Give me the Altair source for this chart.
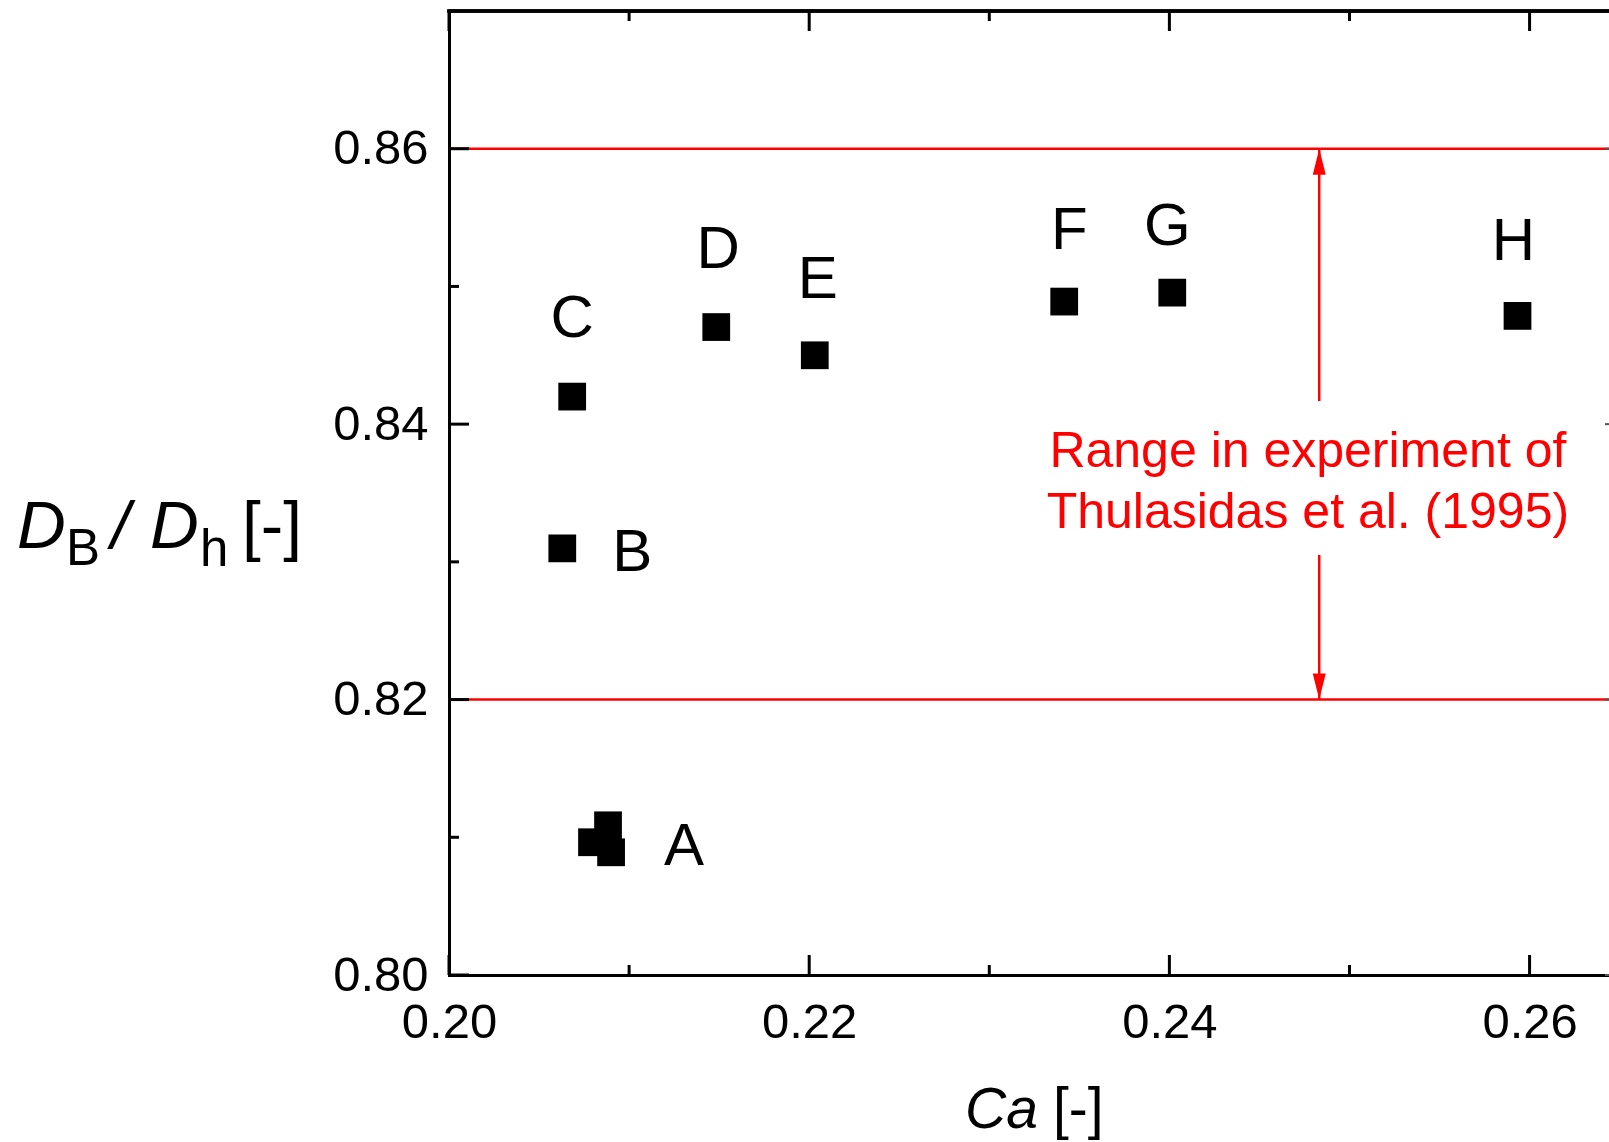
import altair as alt
import pandas as pd

# ---------------- data ----------------
CASE = ["A", "A", "A", "B", "C", "D", "E", "F", "G", "H"]
CA = [0.20794, 0.20883, 0.20900, 0.20629, 0.20684, 0.21484, 0.22031, 0.23416, 0.24016, 0.25933]
DB_DH = [0.80964, 0.81087, 0.80891, 0.83098, 0.84200, 0.84705, 0.84500, 0.84890, 0.84955, 0.84786]

RANGE_BOUNDS = [0.82, 0.86]          # Thulasidas et al. (1995)
ARROW_CA = 0.24832
ARROW_UPPER = [0.84168, 0.86]
ARROW_LOWER = [0.82, 0.83050]
RANGE_TEXT = "Range in experiment of\nThulasidas et al. (1995)"
RANGE_TEXT_CA = 0.24769
RANGE_TEXT_DB = 0.83689

X_MAJOR = [0.20, 0.22, 0.24, 0.26]
X_MINOR = [0.21, 0.23, 0.25]
Y_MAJOR = [0.80, 0.82, 0.84, 0.86]
Y_MINOR = [0.81, 0.83, 0.85]

X_DOMAIN = [0.20, 0.26441]   # visible (cropped) part of the x range
Y_DOMAIN = [0.80, 0.87]

# ---------------- layout / style ----------------
W, H = 1160, 964
FONT = "Liberation Sans"
RED = "#ff0000"

pts = pd.DataFrame({"case": CASE, "ca": CA, "db": DB_DH})
lab = pts.loc[pts.groupby("case")["ca"].idxmax()].reset_index(drop=True)

xs = alt.Scale(domain=X_DOMAIN, nice=False, zero=False)
ys = alt.Scale(domain=Y_DOMAIN, nice=False, zero=False)
xaxis = alt.Axis(values=X_MAJOR, format=".2f", title=None, ticks=False, grid=False,
                 domainColor="black", domainWidth=3, domainCap="square",
                 labelFont=FONT, labelFontSize=49, labelColor="black",
                 labelPadding=23, labelFlush=False, labelOverlap=False)
yaxis = alt.Axis(values=Y_MAJOR, format=".2f", title=None, ticks=False, grid=False,
                 domainColor="black", domainWidth=3, domainCap="square",
                 labelFont=FONT, labelFontSize=49, labelColor="black",
                 labelPadding=21, labelFlush=False, labelOverlap=False)


def X(field="ca"):
    return alt.X(f"{field}:Q", scale=xs, axis=xaxis)


def Y(field="db"):
    return alt.Y(f"{field}:Q", scale=ys, axis=yaxis)


layers = []

# red range lines
rng = pd.DataFrame({"db": RANGE_BOUNDS})
layers.append(alt.Chart(rng).mark_rule(color=RED, strokeWidth=2.5).encode(
    y=Y(), x=alt.value(0), x2=alt.value(W)))

# vertical double arrow (two segments with a gap for the text)
seg = pd.DataFrame({"ca": [ARROW_CA, ARROW_CA],
                    "db": [ARROW_UPPER[0], ARROW_LOWER[0]],
                    "db2": [ARROW_UPPER[1], ARROW_LOWER[1]]})
layers.append(alt.Chart(seg).mark_rule(color=RED, strokeWidth=2.5).encode(
    x=X(), y=Y(), y2="db2:Q"))
up = pd.DataFrame({"ca": [ARROW_CA], "db": [RANGE_BOUNDS[1]]})
dn = pd.DataFrame({"ca": [ARROW_CA], "db": [RANGE_BOUNDS[0]]})
layers.append(alt.Chart(up).mark_point(shape="M0,0L0.5,2L-0.5,2Z", size=676, filled=True,
                                       color=RED, opacity=1, strokeWidth=0).encode(x=X(), y=Y()))
layers.append(alt.Chart(dn).mark_point(shape="M0,0L0.5,-2L-0.5,-2Z", size=676, filled=True,
                                       color=RED, opacity=1, strokeWidth=0).encode(x=X(), y=Y()))

# range text
txt = pd.DataFrame({"ca": [RANGE_TEXT_CA], "db": [RANGE_TEXT_DB], "t": [RANGE_TEXT]})
layers.append(alt.Chart(txt).mark_text(color=RED, font=FONT, fontSize=50, align="center",
                                       baseline="alphabetic", lineBreak="\n", lineHeight=61.5).encode(
    x=X(), y=Y(), text="t:N"))

# tick marks (inward)
xmaj = pd.DataFrame({"ca": X_MAJOR})
xmin = pd.DataFrame({"ca": X_MINOR})
ymaj = pd.DataFrame({"db": Y_MAJOR})
ymin = pd.DataFrame({"db": Y_MINOR})
tk = dict(color="black", strokeWidth=3)
layers.append(alt.Chart(xmaj).mark_rule(**tk).encode(x=X(), y=alt.value(H), y2=alt.value(H - 20)))
layers.append(alt.Chart(xmin).mark_rule(**tk).encode(x=X(), y=alt.value(H), y2=alt.value(H - 10)))
layers.append(alt.Chart(xmaj).mark_rule(**tk).encode(x=X(), y=alt.value(0), y2=alt.value(20)))
layers.append(alt.Chart(xmin).mark_rule(**tk).encode(x=X(), y=alt.value(0), y2=alt.value(10)))
layers.append(alt.Chart(ymaj).mark_rule(**tk).encode(y=Y(), x=alt.value(0), x2=alt.value(20)))
layers.append(alt.Chart(ymin).mark_rule(**tk).encode(y=Y(), x=alt.value(0), x2=alt.value(10)))
layers.append(alt.Chart(ymaj).mark_rule(color="#555555", strokeWidth=2).encode(
    y=Y(), x=alt.value(W - 4), x2=alt.value(W)))
# top frame line
layers.append(alt.Chart(xmaj).mark_rule(color="black", strokeWidth=3).encode(
    y=alt.value(0), x=alt.value(-1.5), x2=alt.value(W)))

# data points
layers.append(alt.Chart(pts).mark_point(shape="square", size=770, filled=True, color="black",
                                        opacity=1, strokeWidth=0).encode(x=X(), y=Y()))

# case letters
OFFSETS = {"A": (73, -8), "B": (70, 2), "C": (0, -81), "D": (2, -80),
           "E": (3, -78), "F": (5, -74), "G": (-5, -69), "H": (-4, -77)}
for letter, (dx, dy) in OFFSETS.items():
    d = lab[lab["case"] == letter]
    layers.append(alt.Chart(d).mark_text(font=FONT, fontSize=60, color="black", align="center",
                                         baseline="middle", dx=dx, dy=dy + 3).encode(
        x=X(), y=Y(), text="case:N"))

# axis titles built from pieces (italic symbols, subscripts)
def piece(text, x, y, size, italic=False):
    return alt.Chart(pd.DataFrame({"t": [text]})).mark_text(
        font=FONT, fontSize=size, fontStyle="italic" if italic else "normal",
        color="black", align="left", baseline="alphabetic").encode(
        x=alt.value(x), y=alt.value(y), text="t:N")

layers += [
    piece("D", -432, 536.5, 67.5, True),
    piece("B", -383, 554, 51),
    piece("/", -338, 536.5, 67.5, True),
    piece("D", -299, 536.5, 67.5, True),
    piece("h", -249, 555, 51),
    piece("[-]", -207, 536.5, 67.5),
    piece("Ca", 516, 1117, 57, True),
    piece("[-]", 604, 1117, 57),
]

chart = alt.layer(*layers).properties(
    width=W, height=H,
    autosize=alt.AutoSizeParams(type="none"),
    padding={"left": 449, "top": 11, "right": 0, "bottom": 167},
    background="white",
).configure_view(stroke=None)

chart.save("out.html", embed_options={"renderer": "svg", "actions": False})
